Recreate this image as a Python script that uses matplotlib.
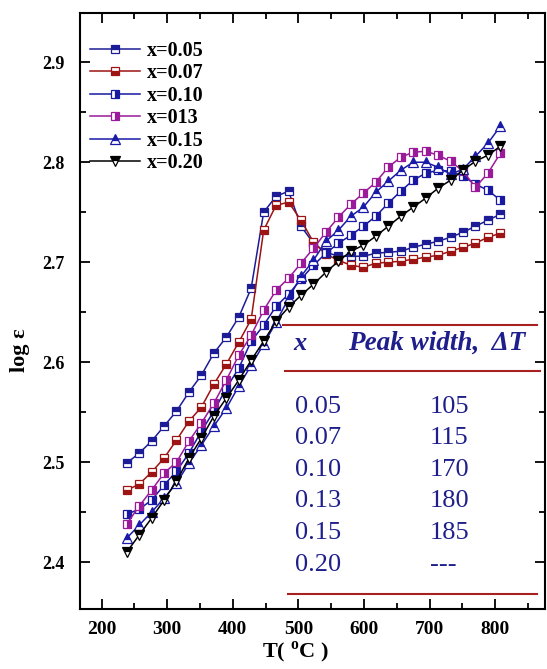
import matplotlib
matplotlib.use("Agg")
import matplotlib.pyplot as plt
from matplotlib.ticker import MultipleLocator

plt.rcParams['font.family'] = ['Liberation Serif', 'DejaVu Serif']
plt.rcParams['mathtext.fontset'] = 'custom'
plt.rcParams['mathtext.rm'] = 'Liberation Serif:bold'
plt.rcParams['mathtext.bf'] = 'Liberation Serif:bold'

# temperature grid (deg C)
temps = [238, 257, 276, 295, 314, 333, 352, 371, 390, 409, 428, 447, 466, 485,
         504, 523, 542, 561, 580, 599, 618, 637, 656, 675, 694, 713, 732, 751,
         770, 789, 808]

# log(eps) for each composition
eps_005 = [2.499, 2.509, 2.521, 2.536, 2.551, 2.570, 2.587, 2.609, 2.625, 2.645,
           2.674, 2.750, 2.766, 2.771, 2.736, 2.719, 2.710, 2.706, 2.706, 2.706,
           2.709, 2.710, 2.711, 2.715, 2.718, 2.721, 2.725, 2.730, 2.736, 2.742,
           2.748]
eps_007 = [2.472, 2.478, 2.490, 2.504, 2.522, 2.541, 2.555, 2.578, 2.598, 2.620,
           2.643, 2.732, 2.757, 2.760, 2.742, 2.720, 2.708, 2.702, 2.697, 2.695,
           2.699, 2.700, 2.701, 2.703, 2.705, 2.707, 2.711, 2.715, 2.719, 2.725,
           2.729]
eps_010 = [2.448, 2.453, 2.462, 2.477, 2.491, 2.509, 2.531, 2.551, 2.574, 2.594,
           2.621, 2.637, 2.656, 2.668, 2.683, 2.697, 2.709, 2.719, 2.727, 2.736,
           2.746, 2.759, 2.771, 2.782, 2.789, 2.792, 2.791, 2.786, 2.778, 2.772,
           2.762]
eps_013 = [2.438, 2.456, 2.472, 2.489, 2.500, 2.521, 2.539, 2.559, 2.582, 2.607,
           2.627, 2.652, 2.672, 2.684, 2.699, 2.714, 2.730, 2.745, 2.758, 2.769,
           2.780, 2.795, 2.805, 2.810, 2.811, 2.807, 2.801, 2.791, 2.775, 2.789,
           2.809]
eps_015 = [2.424, 2.437, 2.450, 2.464, 2.479, 2.499, 2.517, 2.536, 2.554, 2.576,
           2.597, 2.618, 2.640, 2.664, 2.686, 2.702, 2.721, 2.732, 2.746, 2.755,
           2.770, 2.781, 2.792, 2.800, 2.800, 2.795, 2.788, 2.793, 2.806, 2.819,
           2.836]
eps_020 = [2.410, 2.427, 2.444, 2.462, 2.481, 2.504, 2.524, 2.546, 2.564, 2.582,
           2.602, 2.621, 2.641, 2.655, 2.667, 2.678, 2.690, 2.701, 2.711, 2.717,
           2.726, 2.736, 2.746, 2.755, 2.764, 2.774, 2.782, 2.792, 2.801, 2.807,
           2.816]

labels = ["x=0.05", "x=0.07", "x=0.10", "x=013", "x=0.15", "x=0.20"]
series = [eps_005, eps_007, eps_010, eps_013, eps_015, eps_020]
colors = ['#1c1c96', '#9c1414', '#1818a0', '#9a1a9a', '#1a1aa8', '#000000']
markers = ['s', 's', 's', 's', '^', 'v']
fills = ['top', 'bottom', 'right', 'right', 'top', 'top']
msizes = [6, 6, 6, 6, 7, 7]

# peak width table
tab_x = ["0.05", "0.07", "0.10", "0.13", "0.15", "0.20"]
tab_dT = ["105", "115", "170", "180", "185", "---"]

fig = plt.figure(figsize=(5.47, 6.69), dpi=100)
ax = fig.add_axes([0.1463, 0.0897, 0.850, 0.891])

for y, lab, c, m, fs, ms in zip(series, labels, colors, markers, fills, msizes):
    ax.plot(temps, y, color=c, lw=1.1, marker=m, ms=ms, fillstyle=fs,
            markerfacecolor=c, markerfacecoloralt='white',
            markeredgecolor=c, markeredgewidth=0.9, label=lab)

ax.set_xlim(167, 876)
ax.set_ylim(2.3533, 2.9493)
ax.xaxis.set_major_locator(MultipleLocator(100))
ax.xaxis.set_minor_locator(MultipleLocator(50))
ax.yaxis.set_major_locator(MultipleLocator(0.1))
ax.yaxis.set_minor_locator(MultipleLocator(0.05))
ax.tick_params(which='both', direction='in', top=True, right=True, width=1.3)
ax.tick_params(which='major', length=7)
ax.tick_params(which='minor', length=4)
ax.tick_params(axis='y', pad=11)
ax.tick_params(axis='x', pad=9)
for lbl in ax.get_xticklabels():
    lbl.set_fontweight('bold')
    lbl.set_fontsize(14)
for lbl in ax.get_yticklabels():
    lbl.set_fontweight('bold')
    lbl.set_fontsize(13)
for sp in ax.spines.values():
    sp.set_linewidth(1.5)

fig.text(20 / 547, 1 - 350 / 669, "log ε", rotation=90, ha='center',
         va='center', fontsize=16, fontweight='bold')
fig.text(295 / 547, 1 - 652 / 669, "T( $^{\\rm o}$C )", ha='center',
         va='center', fontsize=16, fontweight='bold')

leg = ax.legend(loc='upper left', bbox_to_anchor=(0.0215, 0.953),
                frameon=False, borderpad=0, borderaxespad=0,
                handlelength=2.5, handletextpad=0.35, labelspacing=0.12,
                prop={'weight': 'bold', 'size': 14.5})

# table inside the plot
red = '#a82020'
navy = '#1f1f8c'
ax.plot([476, 864], [2.637, 2.637], color=red, lw=1.5)
ax.plot([479, 868], [2.591, 2.591], color=red, lw=1.5)
ax.plot([484, 864], [2.368, 2.368], color=red, lw=1.5)
ax.text(502, 2.619, "x", color=navy, fontsize=19, fontweight='bold',
        style='italic', ha='center', va='center')
ax.text(575, 2.619, "Peak width,  ΔT", color=navy, fontsize=19.5,
        fontweight='bold', style='italic', ha='left', va='center')
row_y = [2.555, 2.524, 2.492, 2.461, 2.429, 2.397]
for ry, xs, dt in zip(row_y, tab_x, tab_dT):
    ax.text(495, ry, xs, color=navy, fontsize=19, ha='left', va='center')
    ax.text(700, ry, dt, color=navy, fontsize=19, ha='left', va='center')

fig.savefig("out.png", dpi=100)
